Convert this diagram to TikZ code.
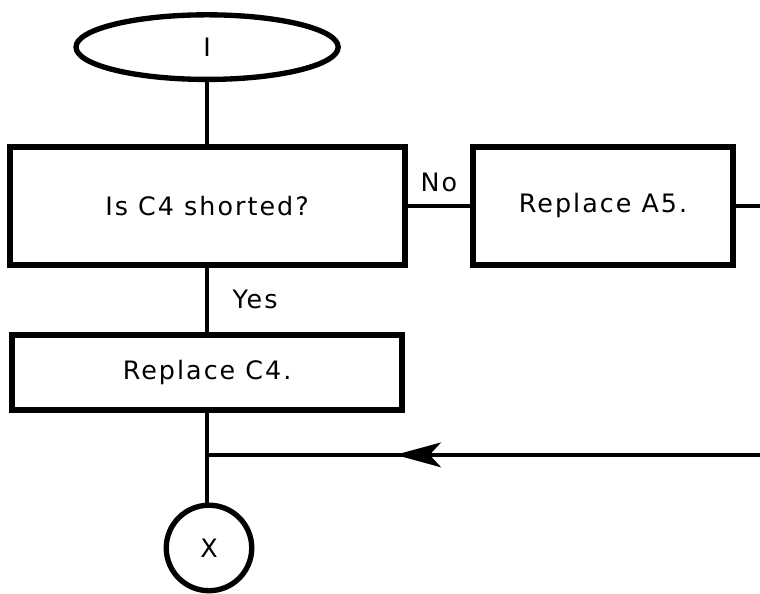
\documentclass[tikz,border=0pt]{standalone}
\usepackage{fontspec}
\setmainfont[LetterSpace=8]{DejaVu Sans}
\usepackage{tikz}
\usetikzlibrary{arrows.meta,positioning,shapes.geometric,decorations.markings}
\newcommand\flowfont{\fontsize{19}{22}\selectfont}

\begin{document}
\begin{tikzpicture}[>=Stealth,
  term/.style={ellipse,draw,line width=4pt,minimum width=6.9cm,minimum height=1.7cm,inner sep=0pt,font=\flowfont},
  act/.style={draw,line width=4.5pt,font=\flowfont},
  stop/.style={circle,draw,line width=4pt,minimum size=2.25cm,font=\flowfont},
  conn/.style={line width=3pt},
  back/.style={conn,postaction={decorate},decoration={markings,mark=at position .673 with {\arrow{Stealth[length=12mm,width=6.5mm,inset=3mm]}}}}]
 \useasboundingbox (0,0) rectangle (20,15.63);
 \node[term] (start) at (5.45,14.39) {I};
 \node[act,minimum width=10.39cm,minimum height=3.1cm] (q) at (5.45,10.21) {Is C4 shorted?};
 \node[act,minimum width=6.84cm,minimum height=3.1cm] (a5) at (15.87,10.21) {Replace A5.};
 \node[act,minimum width=10.26cm,minimum height=1.97cm] (c4) at (5.45,5.83) {Replace C4.};
 \node[stop] (end) at (5.5,1.21) {X};
 \coordinate (ret) at (20.6,3.66);
 \coordinate (join) at (5.45,3.66);
 \draw[conn] (start) -- (q);
 \draw[conn] (q.east) -- node[above=2mm,font=\flowfont]{No} (a5.west);
 \draw[conn] (q) -- node[right=5mm,font=\flowfont]{Yes} (c4);
 \draw[conn] (c4.south) -- (c4.south |- end.north);
 \draw[conn] (a5.east) -| (ret);
 \draw[back] (ret) -- (join);
\end{tikzpicture}
\end{document}
